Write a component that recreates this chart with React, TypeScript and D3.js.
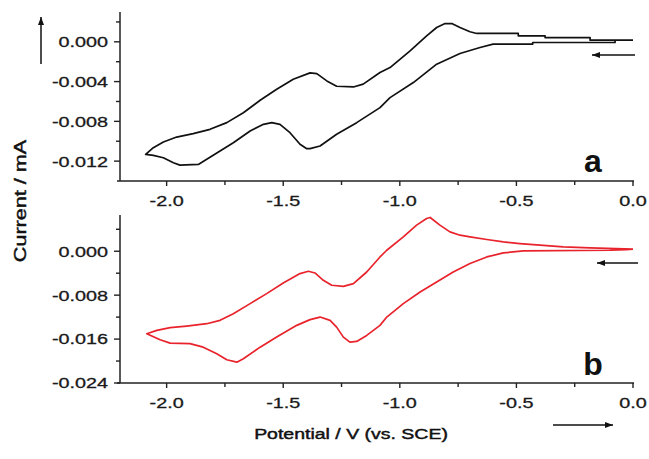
import React from 'react';
import * as d3 from 'd3';

// panel a (black) - one closed scan, forward (cathodic) then reverse
const potentialA = [
  0.0, -0.077, -0.077, -0.43, -0.43, -0.6, -0.656, -0.742, -0.842, -0.942, -1.042, -1.085,
  -1.185, -1.271, -1.342, -1.385, -1.399, -1.428, -1.471, -1.514, -1.549, -1.585, -1.642,
  -1.714, -1.771, -1.828, -1.864, -1.943, -1.971, -2.014, -2.057, -2.09,
  -2.057, -2.014, -1.957, -1.886, -1.814, -1.742, -1.671, -1.599, -1.528, -1.457, -1.385,
  -1.356, -1.313, -1.271, -1.199, -1.157, -1.085, -1.042, -0.956, -0.885, -0.842, -0.806,
  -0.777, -0.742, -0.699, -0.67, -0.492, -0.492, -0.377, -0.377, -0.184, -0.184, 0.0,
];
const currentA = [
  0.00017, 0.00017, -0.00007, -0.00007, -0.00023, -0.00023, -0.00057, -0.00118, -0.00225,
  -0.0041, -0.00561, -0.00662, -0.00813, -0.0093, -0.01048, -0.01075, -0.01075, -0.01031,
  -0.00914, -0.0083, -0.00813, -0.0083, -0.00897, -0.01015, -0.01099, -0.01182, -0.01233,
  -0.0124, -0.01217, -0.01166, -0.01142, -0.01132,
  -0.01065, -0.01008, -0.00958, -0.00924, -0.0088, -0.00813, -0.00713, -0.00588, -0.00477,
  -0.00376, -0.00312, -0.0032, -0.00393, -0.00447, -0.00454, -0.00426, -0.00309, -0.00259,
  -0.00091, 0.0006, 0.00144, 0.00184, 0.00184, 0.00144, 0.00101, 0.00084, 0.00084, 0.0006,
  0.0006, 0.00043, 0.00043, 0.00017, 0.00017,
];

// panel b (red)
const potentialB = [
  0.0, -0.027, -0.099, -0.47, -0.556, -0.627, -0.699, -0.771, -0.842, -0.913, -0.985, -1.056,
  -1.085, -1.142, -1.185, -1.214, -1.242, -1.271, -1.299, -1.342, -1.385, -1.442, -1.528,
  -1.599, -1.671, -1.699, -1.742, -1.785, -1.843, -1.9, -1.985, -2.028, -2.085,
  -2.042, -1.985, -1.914, -1.828, -1.771, -1.714, -1.642, -1.571, -1.5, -1.428, -1.392,
  -1.364, -1.328, -1.292, -1.242, -1.199, -1.142, -1.085, -1.056, -0.985, -0.928, -0.885,
  -0.87, -0.828, -0.785, -0.742, -0.699, -0.627, -0.556, -0.485, -0.399, -0.299, -0.184, 0.0,
];
const currentB = [
  0.00037, 0.00031, 0.00018, 0.00005, -0.00031, -0.00104, -0.00224, -0.00378, -0.0056,
  -0.00743, -0.00954, -0.01199, -0.0135, -0.01533, -0.01643, -0.01655, -0.01564, -0.01382,
  -0.01259, -0.01199, -0.01246, -0.0135, -0.01564, -0.01747, -0.01958, -0.0202, -0.01976,
  -0.01867, -0.01747, -0.01684, -0.01674, -0.01611, -0.01502,
  -0.01442, -0.01392, -0.01363, -0.0132, -0.01259, -0.01137, -0.00954, -0.00772, -0.00579,
  -0.00407, -0.00365, -0.00396, -0.00529, -0.0062, -0.00639, -0.0059, -0.00378, -0.00104,
  0.00018, 0.00261, 0.00475, 0.00597, 0.00615, 0.00475, 0.00352, 0.00292, 0.00261, 0.00214,
  0.0017, 0.0014, 0.0011, 0.00078, 0.0006, 0.00037,
];

const xTicks = [-2.0, -1.5, -1.0, -0.5, 0.0];
const xMinor = [-1.75, -1.25, -0.75, -0.25];
const yTicksA = [0, -0.004, -0.008, -0.012];
const yMinorA = [0.002, -0.002, -0.006, -0.01];
const yTicksB = [0, -0.008, -0.016, -0.024];
const yMinorB = [0.004, -0.004, -0.012, -0.02];

const FONT = '"Liberation Sans", Arial, sans-serif';
const SX = 1.32; // the source text is drawn wide
const AXIS = '#222';

const x = d3.scaleLinear().domain([-2.2, 0]).range([120, 633]);

const Panel = ({ potential, current, yDomain, yRange, ticks, minor, color, tag, tagY }) => {
  const y = d3.scaleLinear().domain(yDomain).range(yRange);
  const bottom = yRange[0];
  const top = yRange[1];
  const pts = potential.map((v, i) => [v, current[i]]);
  const line = d3.line().x(d => x(d[0])).y(d => y(d[1]));

  return (
    <g>
      <path d={line(pts)} fill="none" stroke={color} strokeWidth={1.7} strokeLinejoin="round" />

      {/* y axis */}
      <line x1={120} x2={120} y1={top} y2={bottom} stroke={AXIS} strokeWidth={1.5} />
      {ticks.map(t => (
        <g key={'yt' + t}>
          <line x1={114} x2={120} y1={y(t)} y2={y(t)} stroke={AXIS} strokeWidth={1.4} />
          <text transform={`translate(108,${y(t) + 5.4}) scale(${SX},1)`} textAnchor="end"
            fontFamily={FONT} fontSize={15} fill="#1a1a1a" stroke="#1a1a1a" strokeWidth={0.3}>
            {t.toFixed(3)}
          </text>
        </g>
      ))}
      {minor.map(t => (
        <line key={'ym' + t} x1={116} x2={120} y1={y(t)} y2={y(t)} stroke={AXIS} strokeWidth={1.4} />
      ))}

      {/* x axis */}
      <line x1={117} x2={634} y1={bottom} y2={bottom} stroke={AXIS} strokeWidth={1.5} />
      {xTicks.map(t => (
        <g key={'xt' + t}>
          <line x1={x(t)} x2={x(t)} y1={bottom} y2={bottom + 5} stroke={AXIS} strokeWidth={1.4} />
          <text transform={`translate(${x(t)},${bottom + 25}) scale(${SX},1)`} textAnchor="middle"
            fontFamily={FONT} fontSize={15} fill="#1a1a1a" stroke="#1a1a1a" strokeWidth={0.3}>
            {t.toFixed(1)}
          </text>
        </g>
      ))}
      {xMinor.map(t => (
        <line key={'xm' + t} x1={x(t)} x2={x(t)} y1={bottom} y2={bottom + 4} stroke={AXIS} strokeWidth={1.4} />
      ))}

      <text x={593} y={tagY} textAnchor="middle" fontFamily={FONT} fontWeight="bold"
        fontSize={32} fill="#111">{tag}</text>
    </g>
  );
};

const App = () => {
  return (
    <svg width={649} height={459} style={{ position: 'absolute', left: 0, top: 0, background: '#fff' }}>
      <defs>
        <marker id="head" markerUnits="userSpaceOnUse" markerWidth={8} markerHeight={6}
          refX={8} refY={3} orient="auto">
          <path d="M0,0 L8,3 L0,6 z" fill="#111" />
        </marker>
      </defs>

      <Panel potential={potentialA} current={currentA} yDomain={[-0.014, 0.003]} yRange={[181, 12]}
        ticks={yTicksA} minor={yMinorA} color="#111" tag="a" tagY={172} />
      <Panel potential={potentialB} current={currentB} yDomain={[-0.024, 0.0066]} yRange={[383, 215]}
        ticks={yTicksB} minor={yMinorB} color="#e8232b" tag="b" tagY={375} />

      {/* scan direction arrows */}
      <line x1={41} y1={64} x2={41} y2={17} stroke="#111" strokeWidth={1.5} markerEnd="url(#head)" />
      <line x1={635} y1={55} x2={592} y2={55} stroke="#111" strokeWidth={1.5} markerEnd="url(#head)" />
      <line x1={638} y1={263} x2={597} y2={263} stroke="#111" strokeWidth={1.5} markerEnd="url(#head)" />
      <line x1={553} y1={425} x2={613} y2={425} stroke="#111" strokeWidth={1.5} markerEnd="url(#head)" />

      <text transform={`translate(351,439) scale(1.3,1)`} textAnchor="middle" fontFamily={FONT}
        fontSize={15} fill="#111" stroke="#111" strokeWidth={0.45}>Potential / V (vs. SCE)</text>
      <text transform={`translate(26,201) rotate(-90) scale(1.35,1)`} textAnchor="middle" fontFamily={FONT}
        fontSize={16} fill="#111" stroke="#111" strokeWidth={0.45}>Current / mA</text>
    </svg>
  );
};

export default App;
